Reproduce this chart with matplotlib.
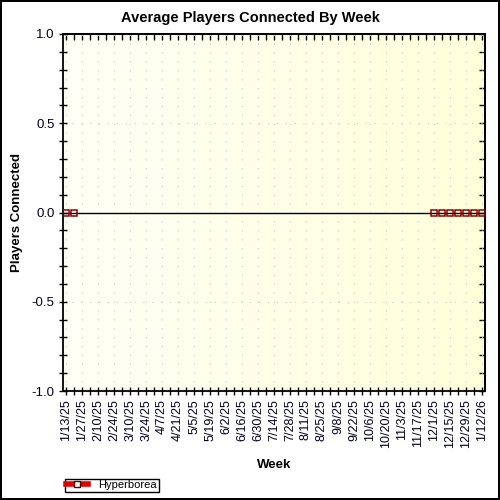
import matplotlib
matplotlib.use("Agg")
import matplotlib.pyplot as plt
from matplotlib.lines import Line2D
from matplotlib.colors import LinearSegmentedColormap
import numpy as np
import pandas as pd

plt.rcParams['font.family'] = ['Liberation Sans', 'DejaVu Sans']

# weekly categories, 1/13/25 .. 1/12/26
weeks = pd.date_range("2025-01-13", "2026-01-12", freq="7D")
week_labels = [f"{d.month}/{d.day}/{d.year % 100}" for d in weeks]

# weeks that have a reading, and the average players for them
data_weeks = ["1/13/25", "1/20/25", "12/1/25", "12/8/25", "12/15/25",
              "12/22/25", "12/29/25", "1/5/26", "1/12/26"]
players = [0, 0, 0, 0, 0, 0, 0, 0, 0]
series_name = "Hyperborea"

fig = plt.figure(figsize=(5, 5), dpi=100)
fig.patch.set_edgecolor("black")
fig.patch.set_linewidth(1.5)
ax = fig.add_axes([0.126, 0.218, 0.844, 0.714])

# background gradient
grad = np.linspace(0, 1, 256).reshape(1, -1)
cmap = LinearSegmentedColormap.from_list("bg", ["#FFFFF6", "#FFFFDA"])
ax.imshow(grad, aspect="auto", cmap=cmap, extent=[-0.4, 52.4, -1, 1],
          zorder=0)

xs = [week_labels.index(w) for w in data_weeks]
ax.axhline(0, color="black", lw=1, zorder=2)
ax.plot(xs, players, ls="none", marker="s", ms=5.0, mfc="none",
        mec="#8B0000", mew=1.1, zorder=3)

ax.set_xlim(-0.4, 52.4)
ax.set_ylim(-1, 1)

ax.set_xticks(range(0, len(week_labels), 2))
ax.set_xticklabels(week_labels[::2], rotation=90, fontsize=9)
ax.set_xticks(range(1, len(week_labels), 2), minor=True)
ax.set_yticks([-1, -0.5, 0, 0.5, 1])
ax.set_yticklabels(["-1.0", "-0.5", "0.0", "0.5", "1.0"], fontsize=9.5)
ax.set_yticks(np.arange(-1, 1.01, 0.1), minor=True)
ax.tick_params(which="both", direction="inout", length=6, width=1,
               color="black", labelcolor="#000020", pad=3)

ax.grid(True, which="major", color="#c8c8c8", lw=0.8,
        ls=(0, (1, 7)), zorder=1)

top = ax.secondary_xaxis("top")
top.set_xticks(range(len(week_labels)))
top.tick_params(direction="in", length=4, width=1, labeltop=False)
right = ax.secondary_yaxis("right")
right.set_yticks(np.arange(-1, 1.01, 0.1))
right.tick_params(direction="in", length=4, width=1, labelright=False)

for s in ax.spines.values():
    s.set_linewidth(1.3)
top.spines["top"].set_linewidth(1.3)
right.spines["right"].set_linewidth(1.3)

fig.text(0.5, 0.964, "Average Players Connected By Week", fontsize=10.5,
         fontweight="bold", ha="center", va="center")
ax.set_xlabel("Week", fontsize=9.5, fontweight="bold", labelpad=8)
ax.set_ylabel("Players Connected", fontsize=9.5, fontweight="bold",
              labelpad=6)

handle = Line2D([], [], color="#E00000", lw=4, marker="s", ms=5,
                mfc="white", mec="#600000")
fig.legend([handle], [series_name], loc="lower left",
           bbox_to_anchor=(0.118, 0.005), fontsize=8, frameon=True,
           fancybox=False, edgecolor="black", framealpha=1,
           handlelength=2.0, borderpad=0.15, handletextpad=0.9)

fig.savefig("out.png", dpi=100, edgecolor=fig.get_edgecolor())
